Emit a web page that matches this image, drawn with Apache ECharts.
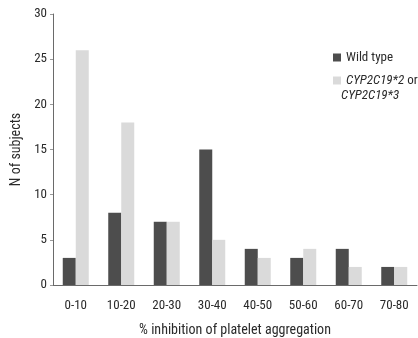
<!DOCTYPE html>
<html><head><meta charset="utf-8">
<script src="https://cdn.jsdelivr.net/npm/echarts@6/dist/echarts.min.js"></script>
<style>html,body{margin:0;padding:0;background:#fff}#c{width:418px;height:338px}</style>
</head><body><div id="c"></div>
<script>
var categories = ['0-10','10-20','20-30','30-40','40-50','50-60','60-70','70-80'];
var wildType = [3, 8, 7, 15, 4, 3, 4, 2];
var variant = [26, 18, 7, 5, 3, 4, 2, 2];
var yTicks = {min: 0, max: 30, interval: 5};
var FONT = "'Roboto Condensed','DejaVu Sans Condensed',sans-serif";
var chart = echarts.init(document.getElementById('c'));
chart.setOption({
  animation: false,
  textStyle: {fontFamily: FONT},
  grid: {left: 53, right: 1, top: 14, bottom: 53, containLabel: false, outerBoundsMode: 'none'},
  legend: {
    orient: 'vertical', left: 328, top: 46, itemWidth: 8, itemHeight: 8, itemGap: 10,
    icon: 'rect',
    textStyle: {fontFamily: FONT, fontSize: 13, color: '#2a2a2a',
      rich: {i: {fontStyle: 'italic', fontFamily: FONT, fontSize: 13, color: '#2a2a2a'}}},
    formatter: function (n) { return n === 'Wild type' ? n : '{i|CYP2C19*2} or'; },
    data: ['Wild type', 'CYP2C19*2 or CYP2C19*3']
  },
  graphic: [{type: 'text', left: 341, top: 89,
    style: {text: 'CYP2C19*3', fontStyle: 'italic', fontFamily: FONT, fontSize: 13, fill: '#2a2a2a'}}],
  xAxis: {
    type: 'category', data: categories,
    name: '% inhibition of platelet aggregation', nameLocation: 'middle', nameGap: 38,
    nameTextStyle: {fontSize: 14, color: '#2a2a2a', fontFamily: FONT},
    axisLine: {lineStyle: {color: '#6a6a6a', width: 1}},
    axisTick: {inside: true, length: 4, lineStyle: {color: '#9a9a9a'}},
    axisLabel: {fontSize: 13, color: '#2a2a2a', margin: 14}
  },
  yAxis: {
    type: 'value', min: yTicks.min, max: yTicks.max, interval: yTicks.interval,
    name: 'N of subjects', nameLocation: 'middle', nameGap: 24,
    nameTextStyle: {fontSize: 14, color: '#2a2a2a', fontFamily: FONT},
    splitLine: {show: false},
    axisLine: {show: true, lineStyle: {color: '#6a6a6a', width: 1}},
    axisTick: {show: true, length: 3, lineStyle: {color: '#9a9a9a'}},
    axisLabel: {fontSize: 13, color: '#2a2a2a', margin: 6}
  },
  series: [
    {name: 'Wild type', type: 'bar', data: wildType, barWidth: 13, barGap: '0%',
      itemStyle: {color: '#4d4d4d'}},
    {name: 'CYP2C19*2 or CYP2C19*3', type: 'bar', data: variant, barWidth: 13,
      itemStyle: {color: '#dadada'}}
  ]
});
</script></body></html>
